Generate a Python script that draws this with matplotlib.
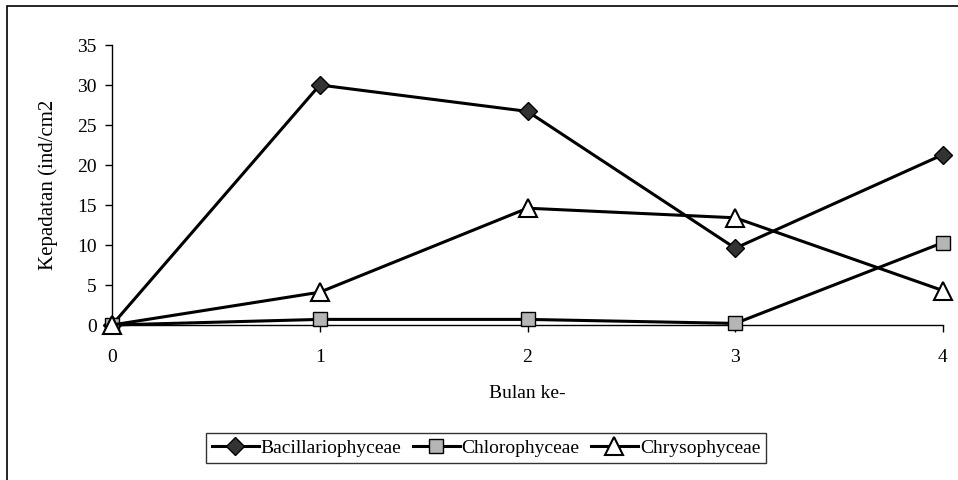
import numpy as np
import matplotlib.pyplot as plt
from matplotlib.patches import Rectangle

plt.rcParams['font.family'] = ['Liberation Serif', 'DejaVu Serif']

bulan = [0, 1, 2, 3, 4]
bacillario = [0, 30, 26.7, 9.6, 21.3]
chloro = [0, 0.7, 0.7, 0.2, 10.3]
chryso = [0, 4.1, 14.6, 13.4, 4.3]

fig = plt.figure(figsize=(9.58, 4.8), dpi=100)
ax = fig.add_axes([112/958, 1 - 325/480, (943 - 112)/958, (325 - 45)/480])

# outer frame, like the pasted Excel chart
fig.patches.append(Rectangle((7/958, -0.1), 1.2, 1 - 6/480 + 0.1, transform=fig.transFigure,
                             fill=False, edgecolor='black', linewidth=1.2))

lw = 2.2
ax.plot(bulan, bacillario, color='black', lw=lw, marker='D', ms=9,
        mfc='#333333', mec='black', mew=1, label='Bacillariophyceae', clip_on=False, zorder=3)
ax.plot(bulan, chloro, color='black', lw=lw, marker='s', ms=10,
        mfc='#b5b5b5', mec='black', mew=1, label='Chlorophyceae', clip_on=False, zorder=3)
ax.plot(bulan, chryso, color='black', lw=lw, marker='^', ms=13,
        mfc='white', mec='black', mew=1.5, label='Chrysophyceae', clip_on=False, zorder=4)

ax.set_xlim(0, 4)
ax.set_ylim(0, 35)
ax.set_xticks(bulan)
ax.set_yticks(np.arange(0, 36, 5))
ax.spines['top'].set_visible(False)
ax.spines['right'].set_visible(False)
ax.spines['left'].set_linewidth(1)
ax.spines['bottom'].set_linewidth(1)
ax.tick_params(axis='both', direction='out', length=5, width=1, labelsize=14)
ax.tick_params(axis='y', pad=6)
ax.tick_params(axis='x', pad=12)
ax.set_xlabel('Bulan ke-', fontsize=14, labelpad=14)
ax.set_ylabel('Kepadatan (ind/cm2', fontsize=15, labelpad=14)

leg = fig.legend(loc='center', bbox_to_anchor=(486/958, 1 - 448/480), ncol=3,
                 fontsize=14, frameon=True, fancybox=False, handlelength=2.4,
                 columnspacing=0.6, handletextpad=0.1, borderpad=0.3, borderaxespad=0)
leg.get_frame().set_edgecolor('black')
leg.get_frame().set_linewidth(1)

fig.savefig('out.png', dpi=100)
